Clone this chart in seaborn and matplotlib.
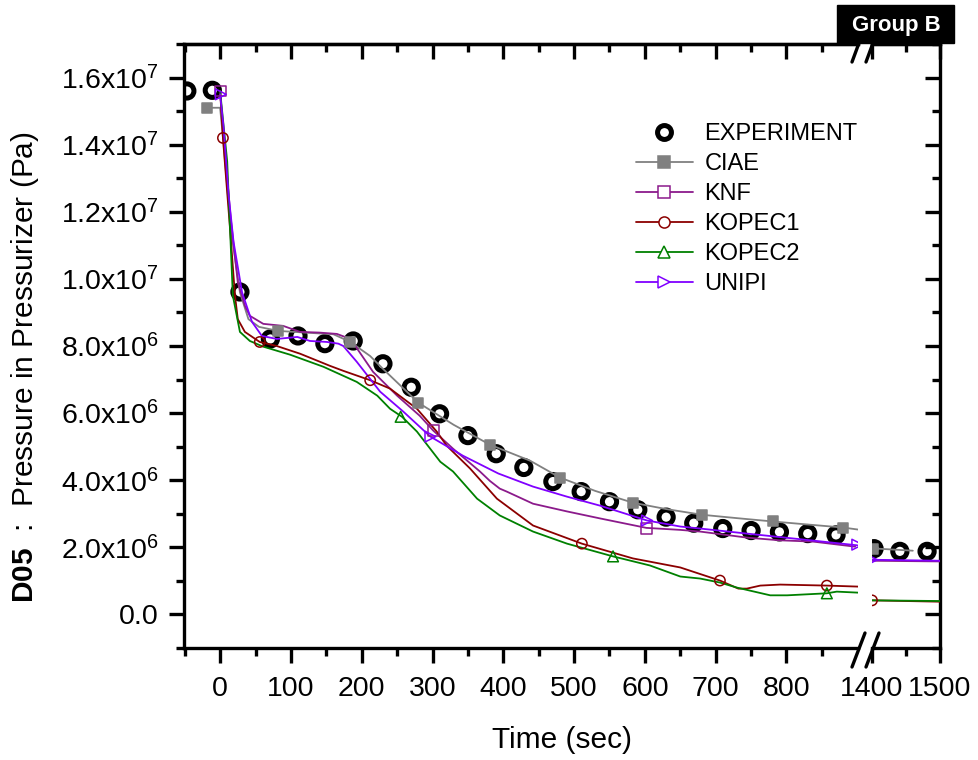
"""Pressurizer pressure, test D05 (Group B): experiment against five code
results, with a broken time axis (-50..900 s and 1400..1500 s)."""

import numpy as np
import matplotlib
matplotlib.use("Agg")
import matplotlib.pyplot as plt
from matplotlib.lines import Line2D
from matplotlib.patches import Rectangle
from matplotlib.ticker import FixedLocator, FuncFormatter
import seaborn as sns

# ---- data (pressure in 1e6 Pa, time in sec) ----
exp_t = [-47, -11, 28, 71, 110, 148, 188, 230, 270, 310, 350, 390, 429, 470,
         510, 550, 590, 630, 669, 710, 750, 790, 830, 870, 1403, 1441, 1481]
exp_p = [15.6, 15.62, 9.61, 8.21, 8.30, 8.07, 8.15, 7.47, 6.77, 5.98, 5.33,
         4.79, 4.38, 3.96, 3.66, 3.36, 3.12, 2.90, 2.72, 2.56, 2.50, 2.46,
         2.41, 2.37, 1.96, 1.88, 1.88]

ciae_t = [-18, 0, 5, 15, 28, 40, 55, 82, 120, 160, 184, 212, 230, 280, 330,
          381, 438, 480, 530, 583, 630, 681, 730, 781, 830, 880, 901,
          1400, 1460]
ciae_p = [15.1, 15.1, 14.0, 11.5, 9.6, 8.8, 8.57, 8.45, 8.4, 8.35, 8.12, 7.7,
          7.32, 6.31, 5.65, 5.06, 4.58, 4.08, 3.68, 3.33, 3.14, 2.97, 2.87,
          2.77, 2.68, 2.59, 2.53, 1.97, 1.90]
ciae_mt = [-18, 82, 184, 280, 381, 480, 583, 681, 781, 880, 1402]
ciae_mp = [15.1, 8.45, 8.12, 6.31, 5.06, 4.08, 3.33, 2.97, 2.77, 2.59, 1.96]

knf_t = [0, 5, 15, 25, 35, 42, 61, 89, 113, 140, 165, 184, 191, 216, 250,
         282, 301, 329, 367, 381, 395, 405, 442, 490, 537, 602, 650, 678,
         744, 790, 838, 897, 1400, 1500]
knf_p = [15.6, 14.2, 11.8, 9.9, 9.2, 8.9, 8.66, 8.6, 8.42, 8.4, 8.36, 8.21,
         8.0, 7.23, 6.52, 5.92, 5.48, 4.94, 4.26, 3.98, 3.75, 3.66, 3.30,
         3.07, 2.86, 2.58, 2.52, 2.47, 2.29, 2.21, 2.17, 2.02, 1.60, 1.58]
knf_mt = [1, 301, 602]
knf_mp = [15.6, 5.48, 2.56]

kopec1_t = [0, 4, 14, 21, 25, 35, 56, 80, 113, 155, 174, 212, 240, 278, 306,
            320, 353, 391, 442, 511, 583, 650, 706, 732, 744, 763, 791, 857,
            901, 1400, 1500]
kopec1_p = [15.6, 14.2, 11.5, 9.5, 8.8, 8.42, 8.12, 8.0, 7.77, 7.41, 7.26,
            6.98, 6.73, 6.13, 5.45, 5.03, 4.35, 3.45, 2.65, 2.11, 1.67, 1.40,
            1.01, 0.77, 0.77, 0.86, 0.89, 0.86, 0.83, 0.42, 0.38]
kopec1_mt = [4, 56, 212, 511, 706, 857, 1400]
kopec1_mp = [14.2, 8.12, 6.98, 2.11, 1.01, 0.86, 0.42]

kopec2_t = [0, 10, 14, 18, 28, 42, 61, 99, 146, 193, 222, 240, 257, 278,
            311, 329, 363, 395, 442, 490, 555, 607, 650, 678, 706, 730, 777,
            801, 857, 871, 901, 1400, 1500]
kopec2_p = [15.6, 13.5, 11.5, 9.5, 8.42, 8.15, 7.98, 7.74, 7.38, 6.93, 6.52,
            6.13, 5.89, 5.45, 4.55, 4.26, 3.45, 2.95, 2.47, 2.11, 1.73, 1.46,
            1.13, 1.07, 0.95, 0.80, 0.57, 0.57, 0.63, 0.68, 0.65, 0.42, 0.40]
kopec2_mt = [255, 555, 857]
kopec2_mp = [5.89, 1.73, 0.63]

unipi_t = [0, 5, 12, 19, 31, 45, 59, 80, 109, 127, 151, 167, 174, 193, 226,
           259, 297, 343, 393, 442, 490, 537, 603, 650, 678, 744, 838, 900,
           1400, 1500]
unipi_p = [15.5, 14.5, 12.5, 11.1, 9.6, 8.72, 8.3, 8.21, 8.27, 8.15, 8.12,
           8.07, 8.0, 7.53, 6.64, 6.04, 5.30, 4.73, 4.20, 3.81, 3.51, 3.24,
           2.80, 2.62, 2.56, 2.41, 2.20, 2.06, 1.63, 1.60]
unipi_mt = [1, 297, 603, 900, 1400]
unipi_mp = [15.5, 5.30, 2.80, 2.08, 1.63]

x_major_a = [0, 100, 200, 300, 400, 500, 600, 700, 800]
x_minor_a = [-50, 50, 150, 250, 350, 450, 550, 650, 750, 850]
x_major_b = [1400, 1500]
x_minor_b = [1450]
y_major = [0, 2e6, 4e6, 6e6, 8e6, 1e7, 1.2e7, 1.4e7, 1.6e7]
y_minor = [-1e6, 1e6, 3e6, 5e6, 7e6, 9e6, 1.1e7, 1.3e7, 1.5e7, 1.7e7]

# ---- style ----
sns.set_style("white")
plt.rcParams["font.family"] = ["Liberation Sans", "DejaVu Sans"]
plt.rcParams["mathtext.fontset"] = "custom"
plt.rcParams["mathtext.rm"] = "Liberation Sans"
plt.rcParams["mathtext.bf"] = "Liberation Sans:bold"
plt.rcParams["mathtext.it"] = "Liberation Sans:italic"
for key in ("text.color", "xtick.color", "ytick.color", "axes.labelcolor",
            "xtick.labelcolor", "ytick.labelcolor"):
    plt.rcParams[key] = "black"

W, H = 979, 760
fig = plt.figure(figsize=(W / 100, H / 100), dpi=100)

def fx(px):
    return px / W

def fy(py):
    return 1 - py / H

ax_a = fig.add_axes([fx(184), fy(648), fx(858 - 184), (648 - 44) / H])
ax_b = fig.add_axes([fx(872), fy(648), fx(940 - 872), (648 - 44) / H])

SCALE = 1e6
series = [
    ("CIAE", ciae_t, ciae_p, ciae_mt, ciae_mp, "#808080", "s", True),
    ("KNF", knf_t, knf_p, knf_mt, knf_mp, "#8B1A8B", "s", False),
    ("KOPEC1", kopec1_t, kopec1_p, kopec1_mt, kopec1_mp, "#8B0000", "o", False),
    ("KOPEC2", kopec2_t, kopec2_p, kopec2_mt, kopec2_mp, "#008000", "^", False),
    ("UNIPI", unipi_t, unipi_p, unipi_mt, unipi_mp, "#8000FF", ">", False),
]

et = np.array(exp_t)
ep = np.array(exp_p) * SCALE

for ax, lo, hi in [(ax_a, -51, 901), (ax_b, 1400, 1500)]:
    sel = (et >= lo - 60) & (et <= hi + 60)
    sns.scatterplot(x=et[sel], y=ep[sel], marker="o", s=105,
                    facecolor="none", edgecolor="black", linewidth=3.6,
                    ax=ax, zorder=2, legend=False)
    for name, t, p, mt, mp, col, mk, filled in series:
        t = np.array(t)
        p = np.array(p) * SCALE
        seg = (t >= lo - 30) & (t <= hi + 30)
        if seg.sum() > 1:
            sns.lineplot(x=t[seg], y=p[seg], color=col, lw=1.3,
                         estimator=None, sort=False, ax=ax, zorder=3)
        mt = np.array(mt)
        mp = np.array(mp) * SCALE
        mseg = (mt >= lo - 30) & (mt <= hi + 30)
        if mseg.any():
            sns.scatterplot(x=mt[mseg], y=mp[mseg], marker=mk,
                            s=60 if mk != "o" else 55,
                            facecolor=col if filled else "none",
                            edgecolor=col, linewidth=1.1,
                            ax=ax, zorder=4, legend=False)
    ax.set_xlim(lo, hi)
    ax.set_ylim(-1e6, 1.7e7)
    ax.set_xlabel("")
    ax.set_ylabel("")

# ---- axes, ticks ----
SPW = 2.4
for ax in (ax_a, ax_b):
    for s in ax.spines.values():
        s.set_linewidth(SPW)
        s.set_color("black")
ax_a.spines["right"].set_visible(False)
ax_b.spines["left"].set_visible(False)

def ylab(v, pos):
    if v == 0:
        return "0.0"
    e = int(np.floor(np.log10(abs(v))))
    return r"$\mathregular{%.1fx10^{%d}}$" % (v / 10 ** e, e)

ax_a.yaxis.set_major_locator(FixedLocator(y_major))
ax_a.yaxis.set_minor_locator(FixedLocator(y_minor))
ax_a.yaxis.set_major_formatter(FuncFormatter(ylab))
ax_a.xaxis.set_major_locator(FixedLocator(x_major_a))
ax_a.xaxis.set_minor_locator(FixedLocator(x_minor_a))
ax_b.xaxis.set_major_locator(FixedLocator(x_major_b))
ax_b.xaxis.set_minor_locator(FixedLocator(x_minor_b))
ax_b.yaxis.set_major_locator(FixedLocator(y_major))
ax_b.yaxis.set_minor_locator(FixedLocator(y_minor))
ax_b.yaxis.tick_right()
ax_b.tick_params(axis="y", which="both", direction="in", left=False,
                 right=True, labelright=False, labelleft=False)
ax_b.tick_params(axis="y", which="major", length=11, width=SPW)
ax_b.tick_params(axis="y", which="minor", length=6, width=SPW)

for ax in (ax_a, ax_b):
    ax.tick_params(axis="x", which="both", direction="out", bottom=True,
                   top=False, labelsize=20.5, pad=9)
    ax.tick_params(axis="x", which="major", length=11, width=SPW)
    ax.tick_params(axis="x", which="minor", length=6, width=SPW)
    top = ax.secondary_xaxis("top")
    top.xaxis.set_major_locator(FixedLocator(ax.xaxis.get_majorticklocs()))
    top.xaxis.set_minor_locator(FixedLocator(ax.xaxis.get_minorticklocs()))
    top.tick_params(axis="x", which="both", direction="in", labeltop=False)
    top.tick_params(axis="x", which="major", length=11, width=SPW)
    top.tick_params(axis="x", which="minor", length=6, width=SPW)
    top.spines["top"].set_linewidth(SPW)

ax_a.tick_params(axis="y", which="both", direction="out", left=True,
                 labelsize=20.5, pad=7)
ax_a.tick_params(axis="y", which="major", length=11, width=SPW)
ax_a.tick_params(axis="y", which="minor", length=6, width=SPW)

# ---- axis break marks ----
for xe in (858, 872):
    fig.add_artist(Line2D([fx(xe - 6), fx(xe + 7)], [fy(667), fy(633)],
                          color="black", lw=2.4, transform=fig.transFigure))
    fig.add_artist(Line2D([fx(xe - 6), fx(xe + 1)], [fy(62), fy(43)],
                          color="black", lw=2.4, transform=fig.transFigure))

# ---- labels ----
fig.text(fx(562), fy(740), "Time (sec)", ha="center", va="center",
         fontsize=21.5)
fig.text(fx(25), fy(367),
         r"$\mathbf{D05}$  :  Pressure in Pressurizer (Pa)",
         rotation=90, ha="center", va="center", fontsize=21.5)

# ---- legend ----
handles = [Line2D([], [], ls="none", marker="o", ms=10, mew=3.6,
                  mfc="none", mec="black")]
labels = ["EXPERIMENT"]
for name, t, p, mt, mp, col, mk, filled in series:
    handles.append(Line2D([], [], color=col, lw=1.3, marker=mk, ms=8,
                          mfc=col if filled else "white", mec=col,
                          mew=1.1))
    labels.append(name)
fig.legend(handles, labels, loc="upper left",
           bbox_to_anchor=(fx(636), fy(123)), frameon=False, fontsize=17,
           handlelength=2.4, handletextpad=0.5, labelspacing=0.34,
           borderpad=0, borderaxespad=0)

# ---- group tag ----
fig.add_artist(Rectangle((fx(837), fy(43)), fx(954 - 837), (43 - 5) / H,
                         transform=fig.transFigure, color="black",
                         zorder=5))
fig.text(fx(896), fy(25), "Group B", color="white", fontsize=16,
         fontweight="bold", ha="center", va="center", zorder=6)

fig.savefig("out.png", dpi=100)
